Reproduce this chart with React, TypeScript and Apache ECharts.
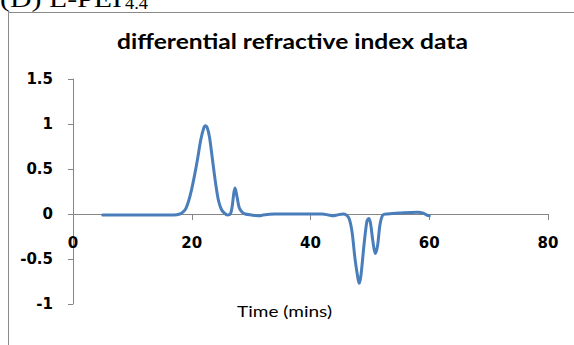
import React, { useEffect, useRef } from "react";
import * as echarts from "echarts";

const chartTitle = "differential refractive index data";
const xAxisTitle = "Time (mins)";
const panelLabel = "(D) L-PEI";
const panelSub = "4.4";

const timeMins = [
  5, 10, 15, 17, 18, 18.5, 19, 19.5, 20, 20.5, 21, 21.5, 22, 22.3, 22.6, 23, 23.5, 24, 24.5, 25, 25.5, 26,
  26.5, 26.8, 27.1, 27.3, 27.6, 28, 28.5, 29, 30, 31.5, 32, 34, 38, 42, 43, 43.8, 44.5, 45.5, 46, 46.5, 47,
  47.5, 48, 48.2, 48.5, 49, 49.5, 49.8, 50.1, 50.5, 50.9, 51.3, 51.7, 52.2, 53, 55, 58, 59, 59.5, 60,
];
const riValues = [
  -0.01, -0.01, -0.01, -0.01, 0.0, 0.02, 0.06, 0.15, 0.28, 0.44, 0.62, 0.82, 0.95, 0.98, 0.96, 0.85, 0.6, 0.35,
  0.15, 0.05, 0.01, -0.01, 0.0, 0.08, 0.24, 0.29, 0.2, 0.07, 0.02, 0.0, -0.01, -0.02, -0.01, 0.0, 0.0, 0.0,
  -0.01, -0.02, -0.01, 0.0, -0.01, -0.05, -0.2, -0.5, -0.72, -0.77, -0.68, -0.35, -0.08, -0.05, -0.1, -0.3,
  -0.44, -0.35, -0.12, -0.01, 0.0, 0.01, 0.02, 0.01, -0.01, -0.02,
];
const xTicks = { min: 0, max: 80, interval: 20 };
const yTicks = { min: -1, max: 1.5, interval: 0.5 };

function textWidth(text: string, font: string): number {
  const ctx = document.createElement("canvas").getContext("2d");
  if (!ctx) return 1;
  ctx.font = font;
  return ctx.measureText(text).width || 1;
}

const GRID_TOP = 79;
const GRID_BOTTOM = 41;
const CHART_H = 345;

export default function App() {
  const ref = useRef<HTMLDivElement>(null);
  useEffect(() => {
    if (!ref.current) return;
    const chart = echarts.init(ref.current, undefined, { renderer: "svg" });
    const titleFont = "bold 21px Lato";
    const nameFont = "15px Lato";
    const serifMain = "24px 'Liberation Serif'";
    const serifSub = "16px 'Liberation Serif'";
    const data = timeMins.map((t, i) => [t, riValues[i]]);
    const plotH = CHART_H - GRID_TOP - GRID_BOTTOM;
    // move the x axis up to y = 0 (line, ticks and labels together)
    const zeroOffset = -((0 - yTicks.min) / (yTicks.max - yTicks.min)) * plotH;
    const labelStyle = {
      color: "#000",
      fontFamily: "DejaVu Sans",
      fontWeight: "bold",
      fontSize: 15,
    };
    chart.setOption({
      animation: false,
      backgroundColor: "#ffffff",
      grid: { left: 73, right: 26, top: GRID_TOP, bottom: GRID_BOTTOM, containLabel: false },
      xAxis: {
        type: "value",
        min: xTicks.min,
        max: xTicks.max,
        interval: xTicks.interval,
        offset: zeroOffset,
        axisLine: { show: true, onZero: false, lineStyle: { color: "#868686", width: 1 } },
        axisTick: { show: true, length: 6, lineStyle: { color: "#868686" } },
        splitLine: { show: false },
        axisLabel: { margin: 21, ...labelStyle },
      },
      yAxis: {
        type: "value",
        min: yTicks.min,
        max: yTicks.max,
        interval: yTicks.interval,
        axisLine: { show: true, onZero: false, lineStyle: { color: "#868686", width: 1 } },
        axisTick: { show: true, length: 5, lineStyle: { color: "#868686" } },
        splitLine: { show: false },
        axisLabel: { margin: 20, ...labelStyle },
      },
      series: [
        {
          type: "line",
          data,
          smooth: 0.3,
          symbol: "none",
          lineStyle: { color: "#4A7EBB", width: 3, join: "round", cap: "round" },
        },
      ],
      graphic: [
        {
          type: "rect",
          shape: { x: 8.5, y: 12.5, width: 700, height: 500 },
          style: { fill: "none", stroke: "#8a8a8a", lineWidth: 1 },
          silent: true,
        },
        {
          type: "text",
          x: 0,
          y: -1.1,
          scaleX: 122 / textWidth(panelLabel, serifMain),
          style: {
            text: panelLabel,
            font: serifMain,
            fill: "#000",
            align: "left",
            textAlign: "left",
            verticalAlign: "middle",
            textVerticalAlign: "middle",
          },
        },
        {
          type: "text",
          x: 125,
          y: 4.1,
          scaleX: 23 / textWidth(panelSub, serifSub),
          style: {
            text: panelSub,
            font: serifSub,
            fill: "#000",
            align: "left",
            textAlign: "left",
            verticalAlign: "middle",
            textVerticalAlign: "middle",
          },
        },
        {
          type: "text",
          x: 292.5,
          y: 41,
          scaleX: 351 / textWidth(chartTitle, titleFont),
          style: {
            text: chartTitle,
            font: titleFont,
            fill: "#000",
            align: "center",
            textAlign: "center",
            verticalAlign: "middle",
            textVerticalAlign: "middle",
          },
        },
        {
          type: "text",
          x: 284.5,
          y: 311,
          scaleX: 95 / textWidth(xAxisTitle, nameFont),
          style: {
            text: xAxisTitle,
            font: nameFont,
            fill: "#000",
            align: "center",
            textAlign: "center",
            verticalAlign: "middle",
            textVerticalAlign: "middle",
          },
        },
      ],
    });
    return () => chart.dispose();
  }, []);
  return (
    <div
      ref={ref}
      style={{ position: "absolute", left: 0, top: 0, width: 574, height: 345, background: "#fff" }}
    />
  );
}
